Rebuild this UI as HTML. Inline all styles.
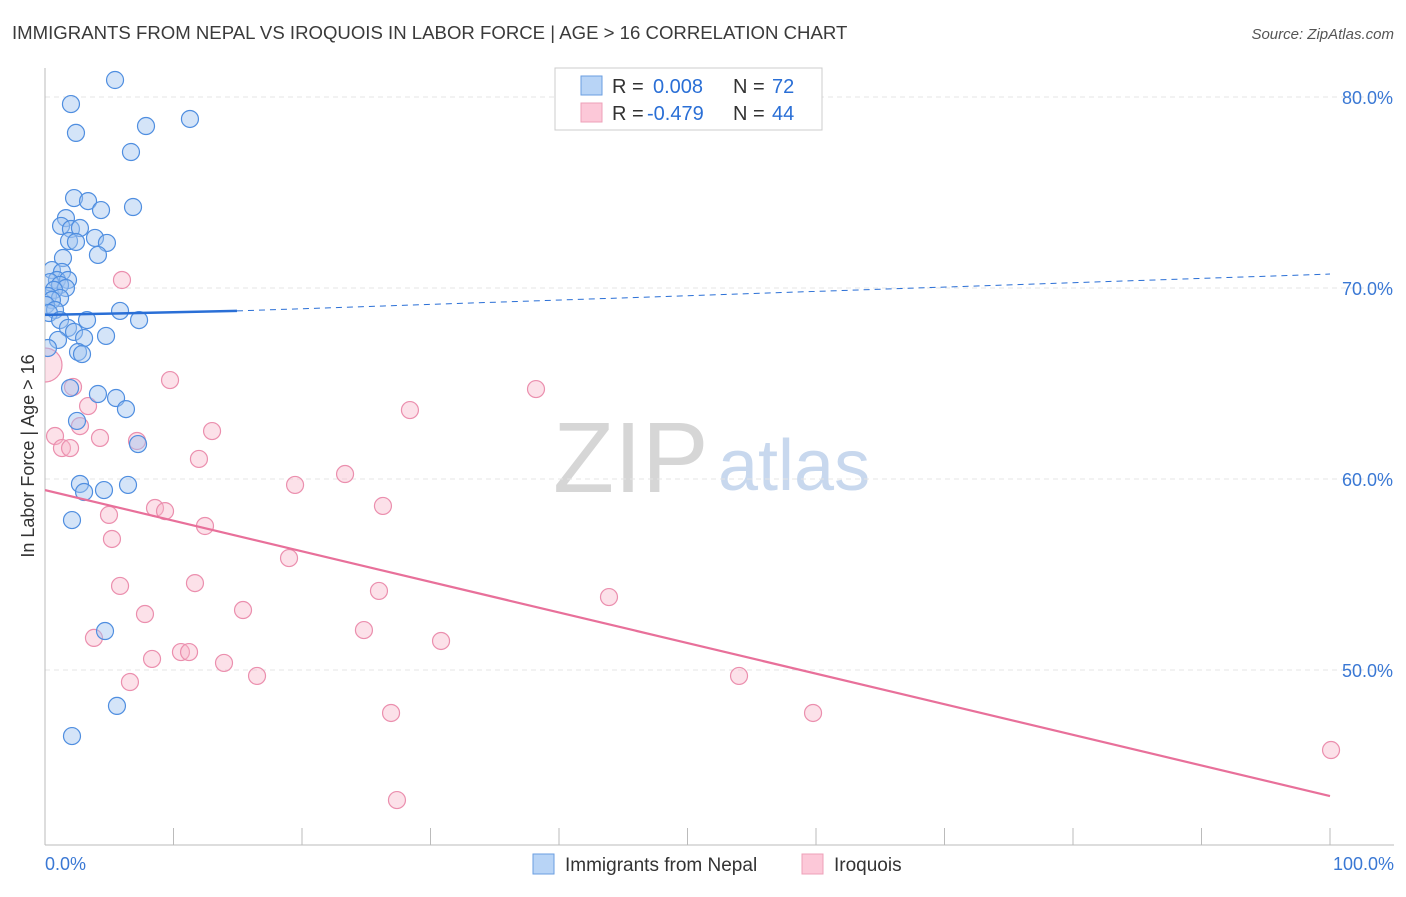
<!DOCTYPE html>
<html><head><meta charset="utf-8"><style>
body{margin:0;background:#fff;font-family:"Liberation Sans",sans-serif;}
svg text{font-family:"Liberation Sans",sans-serif;}
</style></head><body>
<svg id="chart" width="1406" height="892" xmlns="http://www.w3.org/2000/svg">
<defs><clipPath id="plotclip"><rect x="45" y="60" width="1360" height="785"/></clipPath></defs>
<text x="12" y="39" font-size="18.6" fill="#3a3a3a">IMMIGRANTS FROM NEPAL VS IROQUOIS IN LABOR FORCE | AGE &gt; 16 CORRELATION CHART</text>
<text x="1394" y="39" font-size="15" fill="#555" text-anchor="end" font-style="italic">Source: ZipAtlas.com</text>
<g>
<text x="553" y="492" font-size="100" fill="#d6d6d6" font-family="Liberation Serif,serif">ZIP</text>
<text x="718" y="490" font-size="72" fill="#c8d8ee">atlas</text>
</g>
<g id="grid"></g>
<g id="axes"></g>
<g id="marks" clip-path="url(#plotclip)"></g>
<text transform="translate(34,456) rotate(-90)" font-size="18" fill="#333" text-anchor="middle">In Labor Force | Age &gt; 16</text>
<g>
<rect x="555" y="68" width="267" height="62" fill="#fff" stroke="#ccc"/>
<rect x="581" y="76" width="21" height="19" fill="#b8d4f6" stroke="#6a9ee0"/>
<rect x="581" y="103" width="21" height="19" fill="#fcc8d8" stroke="#eea0b8"/>
<text x="612" y="93" font-size="20" fill="#333">R = </text><text x="653" y="93" font-size="20" fill="#2a6fd6">0.008</text>
<text x="733" y="93" font-size="20" fill="#333">N = </text><text x="772" y="93" font-size="20" fill="#2a6fd6">72</text>
<text x="612" y="120" font-size="20" fill="#333">R = </text><text x="647" y="120" font-size="20" fill="#2a6fd6">-0.479</text>
<text x="733" y="120" font-size="20" fill="#333">N = </text><text x="772" y="120" font-size="20" fill="#2a6fd6">44</text>
</g>
<g>
<rect x="533" y="854" width="21" height="20" fill="#b8d4f6" stroke="#6a9ee0"/>
<text x="565" y="871" font-size="19" fill="#333">Immigrants from Nepal</text>
<rect x="802" y="854" width="21" height="20" fill="#fcc8d8" stroke="#eea0b8"/>
<text x="834" y="871" font-size="19" fill="#333">Iroquois</text>
</g>
</svg>
<script>
const blueX=[5.45,2.02,11.28,7.86,2.41,6.69,2.26,3.35,6.85,4.36,1.63,1.25,2.02,2.72,1.87,2.41,3.89,4.82,4.12,1.40,0.54,1.32,0.93,1.79,0.39,1.17,1.63,0.70,0.23,1.17,0.54,0.08,0.78,0.31,5.84,7.32,3.27,1.17,1.79,2.26,3.04,4.75,1.01,0.23,2.57,2.88,1.95,4.12,5.53,6.30,2.49,7.24,2.72,3.04,4.59,6.46,2.10,4.67,5.60,2.10];
const blueY=[80.89,79.63,78.85,78.48,78.12,77.12,74.71,74.55,74.24,74.08,73.66,73.25,73.09,73.14,72.46,72.41,72.62,72.36,71.73,71.57,70.94,70.84,70.42,70.42,70.31,70.16,70.00,69.90,69.58,69.48,69.37,69.11,68.85,68.69,68.80,68.32,68.32,68.32,67.91,67.70,67.38,67.49,67.28,66.86,66.65,66.54,64.76,64.45,64.24,63.66,63.04,61.83,59.74,59.32,59.42,59.69,57.85,52.04,48.12,46.54];
const pinkX=[0,5.99,9.73,38.21,28.40,2.18,3.35,2.72,0.78,1.32,1.95,4.28,7.16,13.00,11.98,23.35,19.46,26.30,8.56,9.34,4.98,12.45,5.21,18.99,5.84,11.67,25.99,43.89,15.41,7.78,24.82,30.82,3.81,8.33,10.58,11.21,13.93,16.50,6.61,54.01,26.93,59.77,27.39,100.08];
const pinkY=[65.97,70.42,65.18,64.71,63.61,64.82,63.82,62.77,62.25,61.62,61.62,62.15,61.99,62.51,61.05,60.26,59.69,58.59,58.48,58.32,58.12,57.54,56.86,55.86,54.40,54.55,54.14,53.82,53.14,52.93,52.09,51.52,51.68,50.58,50.94,50.94,50.37,49.69,49.37,49.69,47.75,47.75,43.19,45.81];
const yTicks=[80,70,60,50];
const yTickLabels=["80.0%","70.0%","60.0%","50.0%"];
const xTickLabels=["0.0%","100.0%"];
const blueTrend=[0,68.59,14.94,68.80,100,70.73];
const pinkTrend=[0,59.42,100,43.40];
const NS="http://www.w3.org/2000/svg";
function sx(v){return 45+v*12.85;}
function sy(v){return 97+(80-v)*19.1;}
function mk(tag,attrs,parent){const e=document.createElementNS(NS,tag);for(const k in attrs)e.setAttribute(k,attrs[k]);document.getElementById(parent).appendChild(e);return e;}
yTicks.forEach((t,i)=>{
 const l=mk('line',{x1:45,x2:1394,y1:sy(t),y2:sy(t),stroke:'#e4e4e4','stroke-dasharray':'5,4'},'grid');
 
 
 const tx=mk('text',{x:1393,y:sy(t)+7,'font-size':18,fill:'#3a78d4','text-anchor':'end'},'grid');
 tx.textContent=yTickLabels[i];
 
 
});
let a=mk('line',{x1:45,x2:45,y1:68,y2:845,stroke:'#bbb'},'axes');


a=mk('line',{x1:45,x2:1394,y1:845,y2:845,stroke:'#bbb'},'axes');


for(let i=0;i<=10;i++){const t=mk('line',{x1:sx(i*10),x2:sx(i*10),y1:828,y2:845,stroke:'#bbb'},'axes');
 
 }
[[0,'start',45],[100,'end',1394]].forEach((d,i)=>{const t=mk('text',{x:d[2],y:870,'font-size':18,fill:'#3a78d4','text-anchor':d[1]},'axes');t.textContent=xTickLabels[i];
 
 });
pinkX.forEach((x,i)=>{const c=mk('circle',{cx:sx(x),cy:sy(pinkY[i]),r:i===0?17:8.5,fill:'rgba(248,180,200,0.4)',stroke:'#eb8fae','stroke-width':1.2},'marks');
 
 });
blueX.forEach((x,i)=>{const c=mk('circle',{cx:sx(x),cy:sy(blueY[i]),r:8.5,fill:'rgba(160,196,240,0.45)',stroke:'#4f8ee0','stroke-width':1.2},'marks');
 
 });
let l=mk('line',{x1:sx(blueTrend[2]),y1:sy(blueTrend[3]),x2:sx(blueTrend[4]),y2:sy(blueTrend[5]),stroke:'#2a6fd6','stroke-width':1,'stroke-dasharray':'6,5'},'marks');


l=mk('line',{x1:sx(blueTrend[0]),y1:sy(blueTrend[1]),x2:sx(blueTrend[2]),y2:sy(blueTrend[3]),stroke:'#2a6fd6','stroke-width':2.5},'marks');


l=mk('line',{x1:sx(pinkTrend[0]),y1:sy(pinkTrend[1]),x2:sx(pinkTrend[2]),y2:sy(pinkTrend[3]),stroke:'#e8709a','stroke-width':2.2},'marks');


</script>
</body></html>
